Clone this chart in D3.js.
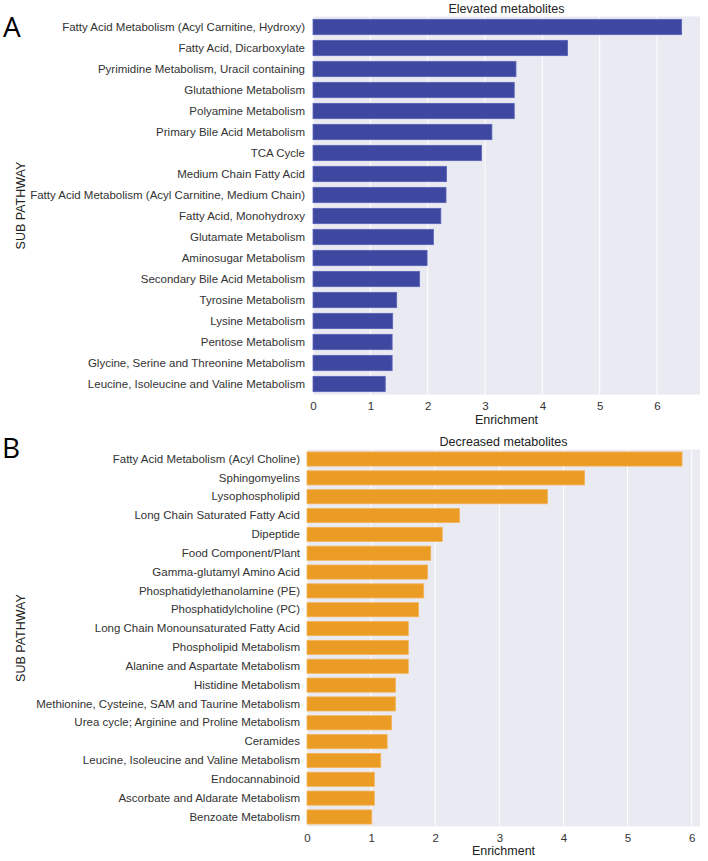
<!DOCTYPE html>
<html><head><meta charset="utf-8">
<script src="https://cdn.jsdelivr.net/npm/d3@7"></script>
<style>body{margin:0;background:#fff}svg{display:block}</style>
</head><body>
<svg id="c" width="708" height="861"></svg>
<script>
const elevatedCats = ["Fatty Acid Metabolism (Acyl Carnitine, Hydroxy)","Fatty Acid, Dicarboxylate","Pyrimidine Metabolism, Uracil containing","Glutathione Metabolism","Polyamine Metabolism","Primary Bile Acid Metabolism","TCA Cycle","Medium Chain Fatty Acid","Fatty Acid Metabolism (Acyl Carnitine, Medium Chain)","Fatty Acid, Monohydroxy","Glutamate Metabolism","Aminosugar Metabolism","Secondary Bile Acid Metabolism","Tyrosine Metabolism","Lysine Metabolism","Pentose Metabolism","Glycine, Serine and Threonine Metabolism","Leucine, Isoleucine and Valine Metabolism"];
const elevatedVals = [6.43,4.44,3.54,3.51,3.51,3.12,2.94,2.33,2.32,2.23,2.10,1.99,1.86,1.46,1.39,1.38,1.38,1.26];
const decreasedCats = ["Fatty Acid Metabolism (Acyl Choline)","Sphingomyelins","Lysophospholipid","Long Chain Saturated Fatty Acid","Dipeptide","Food Component/Plant","Gamma-glutamyl Amino Acid","Phosphatidylethanolamine (PE)","Phosphatidylcholine (PC)","Long Chain Monounsaturated Fatty Acid","Phospholipid Metabolism","Alanine and Aspartate Metabolism","Histidine Metabolism","Methionine, Cysteine, SAM and Taurine Metabolism","Urea cycle; Arginine and Proline Metabolism","Ceramides","Leucine, Isoleucine and Valine Metabolism","Endocannabinoid","Ascorbate and Aldarate Metabolism","Benzoate Metabolism"];
const decreasedVals = [5.85,4.33,3.75,2.38,2.11,1.93,1.88,1.82,1.74,1.58,1.58,1.58,1.38,1.38,1.32,1.25,1.15,1.05,1.05,1.01];
const xTicks = [0,1,2,3,4,5,6];

const svg = d3.select("#c");
const font = "'Liberation Sans', Arial, sans-serif";

function panel(cfg){
  const g = svg.append("g");
  const x = d3.scaleLinear().domain([0, cfg.xmax]).range([cfg.left, cfg.right]);
  const y = d3.scaleBand().domain(cfg.cats).range([cfg.top, cfg.bottom]).paddingInner(cfg.pad).paddingOuter(cfg.pad/2);
  g.append("rect").attr("x", cfg.left).attr("y", cfg.top).attr("width", cfg.right-cfg.left).attr("height", cfg.bottom-cfg.top).attr("fill", "#eaeaf2");
  g.selectAll("line.grid").data(xTicks).join("line").attr("class","grid")
    .attr("x1", d=>x(d)).attr("x2", d=>x(d)).attr("y1", cfg.top).attr("y2", cfg.bottom)
    .attr("stroke", "#fff").attr("stroke-width", 1);
  g.selectAll("rect.bar").data(cfg.vals).join("rect").attr("class","bar")
    .attr("x", x(0)).attr("y", (d,i)=>y(cfg.cats[i]))
    .attr("width", d=>x(d)-x(0)).attr("height", y.bandwidth())
    .attr("fill", cfg.color).attr("stroke", cfg.edge).attr("stroke-width", 0.8);
  const ya = d3.axisLeft(y).tickSize(0).tickPadding(cfg.labPad);
  const yg = g.append("g").attr("transform", `translate(${cfg.left},0)`).call(ya);
  yg.select(".domain").remove();
  yg.selectAll("text").attr("font-family", font).attr("font-size", 11.5).attr("fill", "#333");
  const xa = d3.axisBottom(x).tickValues(xTicks).tickFormat(d3.format("d")).tickSize(0).tickPadding(6);
  const xg = g.append("g").attr("transform", `translate(0,${cfg.bottom+1})`).call(xa);
  xg.select(".domain").remove();
  xg.selectAll("text").attr("font-family", font).attr("font-size", 11.5).attr("fill", "#333");
  const cx = (cfg.left+cfg.right)/2;
  g.append("text").attr("x", cx).attr("y", cfg.top-4).attr("text-anchor","middle")
    .attr("font-family", font).attr("font-size", 12.5).attr("fill", "#222").text(cfg.title);
  g.append("text").attr("x", cx).attr("y", cfg.bottom+29).attr("text-anchor","middle")
    .attr("font-family", font).attr("font-size", 12.5).attr("fill", "#222").text("Enrichment");
  g.append("text").attr("transform", `translate(25,${(cfg.top+cfg.bottom)/2}) rotate(-90)`).attr("text-anchor","middle")
    .attr("font-family", font).attr("font-size", 12.5).attr("fill", "#222").text("SUB PATHWAY");
  g.append("text").attr("x", cfg.letterX).attr("y", cfg.letterY).attr("font-family", "'Open Sans', 'DejaVu Sans', sans-serif")
    .attr("font-size", 28).attr("fill", "#000").text(cfg.letter);
}

panel({cats: elevatedCats, vals: elevatedVals, xmax: 6.75, left: 313, right: 700, top: 16.5, bottom: 394.5,
  pad: 0.27, color: "#3f48a0", edge: "#5a64b8", title: "Elevated metabolites", labPad: 8, letter: "A", letterX: 3, letterY: 37});
panel({cats: decreasedCats, vals: decreasedVals, xmax: 6.13, left: 307, right: 700, top: 449.6, bottom: 826.4,
  pad: 0.25, color: "#eb9c25", edge: "#f3b45a", title: "Decreased metabolites", labPad: 7, letter: "B", letterX: 2, letterY: 458});
</script>
</body></html>
